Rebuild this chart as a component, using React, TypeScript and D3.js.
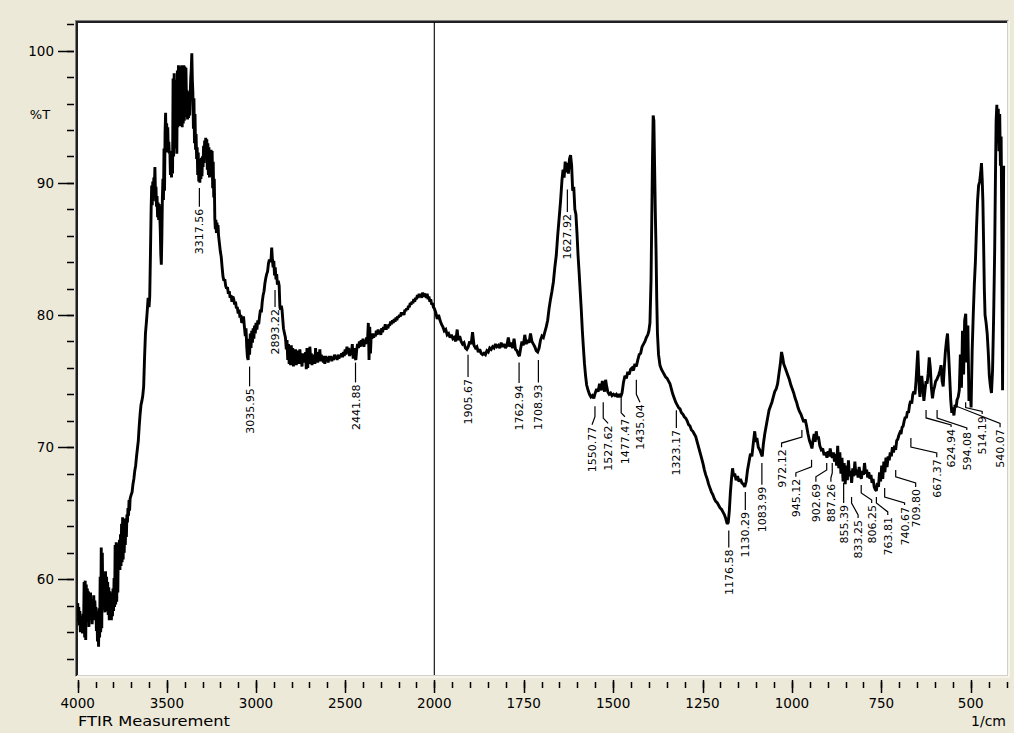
import React from "react";
import * as d3 from "d3";

// ---------- DATA ----------
const spectrum: [number, number][] = [
  [4000,58.2],[3997,56.8],[3994,57.9],[3991,56.5],[3988,57.6],[3985,56.0],[3982,57.2],[3979,56.3],[3976,56.9],[3973,55.9],
  [3970,57.4],[3967,56.2],[3964,59.8],[3961,55.6],[3958,59.9],[3955,55.4],[3952,59.6],[3949,56.8],[3946,59.3],[3943,57.2],
  [3940,59.1],[3937,56.4],[3934,58.7],[3931,56.9],[3928,59.0],[3925,57.3],[3922,58.5],[3919,56.6],[3916,58.2],[3913,57.0],
  [3910,58.8],[3907,56.9],[3904,58.4],[3901,57.4],[3898,57.9],[3895,56.1],[3892,57.6],[3889,55.3],[3886,57.2],[3883,54.9],
  [3880,57.8],[3877,55.6],[3874,60.2],[3871,56.0],[3868,62.4],[3865,56.3],[3862,62.0],[3859,58.4],[3856,60.4],[3853,57.7],
  [3850,60.3],[3847,57.5],[3844,60.6],[3841,58.0],[3838,60.2],[3835,57.6],[3832,59.8],[3829,57.3],[3826,59.4],[3823,56.9],
  [3820,59.1],[3817,57.0],[3814,58.8],[3811,56.9],[3808,59.0],[3805,57.2],[3802,59.3],[3799,57.6],[3796,60.1],[3793,57.9],
  [3790,62.6],[3787,58.1],[3784,62.8],[3781,58.3],[3778,62.4],[3775,59.0],[3772,62.7],[3769,60.8],[3766,63.0],[3763,60.7],
  [3760,63.4],[3757,61.0],[3754,64.2],[3751,61.3],[3748,64.7],[3745,61.5],[3742,64.4],[3739,62.0],[3736,64.6],[3733,62.6],
  [3730,64.5],[3727,63.2],[3724,64.9],[3721,64.3],[3718,65.4],[3715,64.8],[3712,66.0],[3709,65.2],[3706,66.1],[3700,66.4],
  [3695,66.6],[3690,67.2],[3685,67.6],[3680,68.2],[3675,68.6],[3670,69.3],[3665,69.9],[3660,70.5],[3655,71.6],[3650,72.5],
  [3645,73.2],[3640,73.5],[3635,73.9],[3630,74.6],[3625,76.8],[3620,78.6],[3615,79.4],[3610,80.3],[3605,81.3],[3600,80.6],
  [3596,81.4],[3592,84.6],[3588,88.1],[3585,89.8],[3582,88.3],[3579,90.1],[3576,88.6],[3573,90.4],[3570,89.6],[3567,91.2],
  [3564,89.3],[3561,89.7],[3558,88.2],[3555,89.0],[3552,87.4],[3549,88.5],[3546,87.2],[3543,88.4],[3540,87.6],[3537,86.5],
  [3534,84.6],[3531,83.8],[3528,85.9],[3525,88.9],[3522,90.3],[3519,88.7],[3516,92.6],[3513,89.4],[3510,93.8],[3507,95.3],
  [3504,92.4],[3501,94.5],[3498,92.3],[3495,94.2],[3492,92.6],[3489,93.1],[3486,92.2],[3483,92.4],[3480,90.6],[3477,92.2],
  [3474,90.4],[3471,91.8],[3468,90.7],[3465,97.9],[3462,92.0],[3459,98.3],[3456,92.6],[3453,97.8],[3450,93.1],[3447,97.4],
  [3444,92.2],[3441,98.5],[3438,94.2],[3435,98.9],[3432,94.4],[3429,98.7],[3426,94.3],[3423,98.8],[3420,94.6],[3417,98.9],
  [3414,94.2],[3411,98.6],[3408,94.5],[3405,98.9],[3402,94.7],[3399,98.8],[3396,95.0],[3393,98.7],[3390,96.2],[3387,97.0],
  [3384,94.8],[3381,96.8],[3378,94.9],[3375,96.9],[3372,95.1],[3369,96.7],[3366,97.9],[3363,98.6],[3360,99.8],[3357,97.8],
  [3354,96.8],[3351,94.1],[3348,96.4],[3345,93.0],[3342,95.2],[3339,92.5],[3336,93.7],[3333,91.8],[3330,92.7],[3327,90.6],
  [3324,92.3],[3321,90.1],[3318,91.8],[3315,90.0],[3312,91.6],[3309,90.3],[3306,91.9],[3303,90.5],[3300,92.0],[3297,91.2],
  [3294,92.8],[3291,91.5],[3288,93.2],[3285,91.8],[3282,93.4],[3279,92.1],[3276,93.3],[3273,91.0],[3270,93.0],[3267,90.6],
  [3264,92.7],[3261,90.4],[3258,92.2],[3255,91.2],[3252,92.5],[3249,90.5],[3246,92.4],[3243,89.6],[3240,91.6],[3237,88.9],
  [3234,90.3],[3231,87.3],[3228,86.5],[3225,87.2],[3222,86.2],[3219,87.0],[3216,86.4],[3213,86.8],[3210,86.0],[3205,85.4],
  [3200,84.8],[3195,84.4],[3190,83.6],[3185,82.9],[3180,82.6],[3175,82.7],[3170,82.2],[3165,82.0],[3160,82.1],[3155,81.6],
  [3150,81.8],[3145,81.3],[3140,81.5],[3135,81.0],[3130,81.4],[3125,81.2],[3120,80.8],[3115,81.0],[3110,80.5],[3105,80.6],
  [3100,80.1],[3095,80.4],[3090,79.8],[3085,80.0],[3080,79.4],[3075,79.6],[3070,79.9],[3065,79.1],[3060,78.4],[3056,79.0],
  [3052,77.6],[3048,76.8],[3044,76.6],[3040,78.2],[3036,77.0],[3032,78.6],[3028,77.5],[3024,78.8],[3020,77.9],[3016,79.0],
  [3012,78.2],[3008,79.2],[3004,78.6],[3000,79.4],[2995,78.9],[2990,79.6],[2985,79.3],[2980,79.9],[2975,80.4],[2970,80.2],
  [2965,81.0],[2960,81.5],[2955,81.8],[2950,82.4],[2945,82.8],[2940,83.1],[2935,83.3],[2930,83.9],[2925,84.2],[2920,84.0],
  [2915,84.3],[2912,85.1],[2908,84.2],[2904,83.6],[2900,84.1],[2896,83.0],[2892,83.6],[2888,82.7],[2884,83.1],[2880,82.3],
  [2875,82.6],[2870,82.2],[2866,80.6],[2862,80.4],[2858,80.7],[2854,80.4],[2846,79.0],[2840,78.6],[2835,78.3],[2830,77.4],
  [2826,78.1],[2822,76.6],[2818,77.8],[2814,76.3],[2810,77.6],[2806,76.2],[2802,77.7],[2798,76.4],[2794,77.5],[2790,76.1],
  [2786,77.2],[2782,76.5],[2778,77.4],[2774,76.2],[2770,77.3],[2766,76.6],[2762,77.2],[2758,76.3],[2754,77.4],[2750,76.7],
  [2746,77.0],[2742,76.1],[2738,77.1],[2734,76.4],[2730,76.9],[2726,76.5],[2722,77.2],[2718,75.9],[2714,77.5],[2710,76.0],
  [2706,77.3],[2702,76.3],[2698,77.6],[2694,76.8],[2690,77.1],[2686,76.2],[2682,77.0],[2678,76.4],[2674,76.9],[2670,76.3],
  [2666,77.5],[2662,76.5],[2658,77.2],[2654,76.4],[2650,77.0],[2646,76.6],[2642,77.4],[2638,76.5],[2634,77.0],[2630,76.6],
  [2626,76.9],[2622,76.4],[2618,76.8],[2614,76.3],[2610,76.9],[2605,76.5],[2600,76.8],[2595,76.4],[2590,76.9],[2585,76.6],
  [2580,76.9],[2575,76.5],[2570,76.8],[2565,76.6],[2560,77.0],[2555,76.7],[2550,76.9],[2545,76.6],[2540,77.0],[2535,76.7],
  [2530,76.9],[2525,76.8],[2520,77.1],[2515,76.8],[2510,77.2],[2505,76.9],[2500,77.4],[2495,77.0],[2490,77.6],[2485,77.1],
  [2480,77.5],[2475,76.9],[2470,77.3],[2465,77.0],[2460,77.8],[2455,76.7],[2450,77.5],[2445,76.8],[2440,76.6],[2435,77.4],
  [2430,77.8],[2425,77.5],[2420,78.0],[2415,77.6],[2410,78.1],[2405,77.7],[2400,78.2],[2395,77.6],[2390,78.0],[2385,77.8],
  [2380,78.3],[2375,77.9],[2370,79.4],[2366,76.6],[2362,79.1],[2358,77.1],[2354,78.4],[2350,78.2],[2345,78.6],[2340,78.3],
  [2335,78.5],[2330,78.4],[2325,78.8],[2320,78.5],[2315,78.9],[2310,78.6],[2305,78.8],[2300,78.5],[2295,79.0],[2290,78.7],
  [2285,79.1],[2280,78.9],[2275,79.3],[2270,78.9],[2265,79.1],[2260,79.0],[2255,79.3],[2250,79.2],[2245,79.5],[2240,79.3],
  [2235,79.6],[2230,79.4],[2225,79.7],[2220,79.5],[2215,79.8],[2210,79.6],[2205,79.9],[2200,79.8],[2195,80.0],[2190,79.9],
  [2185,80.2],[2180,80.0],[2175,80.2],[2170,80.0],[2165,80.4],[2160,80.3],[2155,80.5],[2150,80.4],[2145,80.7],[2140,80.6],
  [2135,80.9],[2130,80.8],[2125,81.0],[2120,80.9],[2115,81.2],[2110,81.0],[2105,81.3],[2100,81.2],[2095,81.5],[2090,81.3],
  [2085,81.6],[2080,81.4],[2075,81.6],[2070,81.3],[2065,81.7],[2060,81.4],[2055,81.6],[2050,81.5],[2045,81.3],[2040,81.6],
  [2035,81.2],[2030,81.4],[2025,81.0],[2020,81.2],[2015,80.8],[2010,80.9],[2005,80.6],[2000,80.5],
  [1996,80.2],[1992,79.7],[1988,80.0],[1984,79.6],[1980,79.3],[1976,79.1],[1972,78.8],[1968,78.9],[1964,78.5],[1960,78.6],
  [1956,78.3],[1952,78.5],[1948,78.2],[1944,78.3],[1940,78.0],[1936,78.9],[1933,78.1],[1929,78.4],[1925,78.0],[1921,77.8],
  [1917,77.9],[1913,77.5],[1909,77.4],[1905,77.6],[1901,78.0],[1897,77.8],[1893,78.7],[1889,77.7],[1885,77.5],[1881,77.6],
  [1877,77.2],[1873,77.4],[1869,77.1],[1865,77.0],[1861,77.1],[1857,77.0],[1853,77.3],[1849,77.2],[1845,77.5],[1841,77.4],
  [1837,77.6],[1833,77.5],[1829,77.8],[1825,77.6],[1821,77.7],[1817,77.5],[1813,77.9],[1809,77.6],[1805,77.8],[1801,77.5],
  [1797,77.7],[1793,78.3],[1789,77.6],[1785,77.9],[1781,77.5],[1777,78.2],[1773,77.4],[1769,77.3],[1765,77.0],[1762,76.9],
  [1759,77.4],[1755,78.0],[1751,77.7],[1747,78.5],[1743,77.8],[1739,78.1],[1735,77.9],[1731,78.6],[1727,78.0],[1723,77.8],
  [1719,77.6],[1715,77.3],[1711,77.2],[1707,77.5],[1703,78.1],[1699,78.4],[1695,78.3],[1691,78.7],[1687,79.1],[1683,79.6],
  [1679,80.5],[1675,81.2],[1671,81.8],[1667,82.5],[1663,83.6],[1659,84.5],[1655,86.0],[1651,87.3],[1647,88.6],[1643,90.2],
  [1640,91.0],[1637,90.4],[1634,91.6],[1631,90.8],[1628,91.5],[1625,90.7],[1622,91.8],[1619,92.1],[1616,91.3],[1613,89.4],
  [1610,89.7],[1607,88.0],[1604,87.6],[1601,86.2],[1598,84.5],[1595,83.2],[1592,81.8],[1589,80.4],[1586,78.8],[1583,77.5],
  [1580,76.3],[1577,75.4],[1574,74.7],[1570,74.3],[1566,74.0],[1562,73.8],[1558,73.9],[1554,73.7],[1550,74.1],[1546,74.4],
  [1542,74.2],[1538,74.8],[1534,74.3],[1530,75.0],[1527,74.5],[1524,74.2],[1521,75.1],[1518,74.6],[1515,74.2],[1511,74.0],
  [1507,74.1],[1503,73.9],[1499,74.0],[1495,73.9],[1491,74.0],[1487,73.8],[1483,74.0],[1479,73.8],[1475,74.1],[1471,74.9],
  [1467,75.4],[1463,75.2],[1459,75.7],[1455,75.5],[1451,75.9],[1447,76.0],[1443,75.8],[1439,76.3],[1435,76.1],[1431,76.6],
  [1427,77.0],[1423,77.1],[1419,77.6],[1415,77.8],[1411,78.0],[1407,78.3],[1403,78.5],[1400,78.8],[1397,79.4],[1394,82.6],
  [1392,87.0],[1390,91.6],[1388,95.1],[1386,94.7],[1384,91.3],[1382,87.8],[1380,85.0],[1378,81.2],[1376,78.6],[1373,77.0],
  [1369,76.2],[1365,75.9],[1361,75.7],[1357,75.5],[1353,75.3],[1349,75.2],[1345,75.0],[1341,74.8],[1337,74.4],[1333,74.0],
  [1329,73.7],[1325,73.4],[1321,73.2],[1317,73.0],[1313,72.9],[1309,72.6],[1305,72.5],[1301,72.3],[1297,72.2],[1293,72.0],
  [1289,71.7],[1285,71.6],[1281,71.3],[1277,71.2],[1273,71.0],[1269,70.8],[1265,70.4],[1261,70.0],[1257,69.6],[1253,69.2],
  [1249,68.8],[1245,68.3],[1241,67.9],[1237,67.6],[1233,67.2],[1229,66.9],[1225,66.6],[1221,66.4],[1217,66.1],[1213,65.9],
  [1209,65.8],[1205,65.6],[1201,65.4],[1197,65.3],[1193,65.1],[1189,64.9],[1185,64.6],[1181,64.2],[1178,64.3],[1175,65.2],
  [1172,66.6],[1169,67.6],[1166,68.4],[1163,67.8],[1160,68.0],[1156,67.5],[1152,67.8],[1148,67.4],[1144,67.6],[1140,67.3],
  [1136,67.2],[1132,67.0],[1128,67.4],[1124,68.3],[1120,68.9],[1116,69.5],[1112,69.3],[1108,70.3],[1104,71.2],[1101,70.4],
  [1098,70.7],[1094,70.0],[1090,69.8],[1086,69.5],[1083,69.3],[1080,70.2],[1076,71.0],[1072,71.6],[1068,72.2],[1064,72.8],
  [1060,73.1],[1056,73.4],[1052,73.8],[1048,74.2],[1044,74.4],[1040,74.8],[1036,75.6],[1032,76.4],[1029,77.2],[1026,76.8],
  [1023,76.3],[1019,76.0],[1015,75.7],[1011,75.4],[1007,75.1],[1003,74.7],[999,74.4],[995,74.1],[991,73.7],[987,73.4],
  [983,73.0],[979,72.7],[975,72.5],[971,72.2],[967,71.9],[963,72.1],[959,71.6],[955,71.0],[951,70.5],[947,70.2],
  [944,69.9],[941,70.5],[938,71.0],[935,70.4],[932,71.2],[929,70.6],[926,70.8],[922,70.1],[918,69.8],[914,69.9],
  [910,69.4],[906,69.6],[902,69.2],[899,69.7],[896,69.3],[893,69.9],[890,69.4],[887,69.2],[884,69.6],[881,68.9],
  [878,69.5],[875,68.6],[872,70.1],[869,68.4],[866,69.6],[863,68.0],[860,69.2],[857,67.4],[854,68.8],[851,67.2],
  [848,68.6],[845,67.5],[842,69.0],[839,67.8],[836,68.2],[833,67.3],[830,68.4],[827,67.8],[824,68.9],[821,67.9],
  [818,68.3],[815,67.7],[812,68.5],[809,67.9],[806,67.6],[803,68.2],[800,67.9],[797,68.8],[794,68.0],[791,68.3],
  [788,67.7],[785,68.1],[782,67.6],[779,67.9],[776,67.3],[773,67.6],[770,67.0],[767,66.8],[764,66.7],[761,67.3],
  [758,67.0],[755,68.1],[752,67.4],[749,68.6],[746,67.6],[743,68.9],[740,68.1],[737,69.2],[734,68.5],[731,69.3],
  [728,69.0],[725,69.6],[722,69.3],[719,70.0],[716,69.6],[713,70.1],[710,69.8],[707,70.5],[704,70.6],[701,70.9],
  [698,71.1],[695,71.0],[692,71.5],[689,71.6],[686,72.0],[683,72.3],[680,72.2],[677,72.7],[674,72.6],[671,73.2],
  [668,73.5],[665,73.3],[662,74.0],[659,74.2],[656,74.0],[653,75.0],[650,76.4],[648,77.3],[646,76.0],[644,74.4],
  [642,73.8],[640,74.6],[637,75.4],[634,74.5],[631,73.5],[628,74.3],[625,75.0],[622,74.8],[619,75.6],[616,76.8],
  [613,76.0],[610,74.5],[607,73.7],[604,74.3],[601,74.6],[598,75.0],[595,75.1],[592,75.3],[589,75.5],[586,75.8],
  [583,76.2],[580,75.0],[577,74.6],[574,76.0],[571,77.2],[568,78.0],[565,78.6],[562,77.1],[559,75.4],[556,73.6],
  [553,72.6],[550,73.0],[547,72.4],[544,73.2],[541,73.0],[538,73.6],[535,73.8],[532,74.3],[529,77.0],[526,74.5],
  [523,78.8],[520,75.5],[517,79.6],[514,80.1],[511,76.4],[508,79.2],[505,73.5],[502,74.8],[499,73.0],[496,77.3],
  [493,80.0],[490,82.3],[487,84.0],[484,86.5],[481,88.6],[478,89.8],[475,90.1],[472,90.8],[470,91.5],[468,90.3],
  [466,88.6],[464,85.4],[462,82.0],[460,80.0],[457,79.4],[454,78.6],[451,77.2],[448,75.4],[445,74.6],[442,74.1],
  [439,75.8],[436,79.8],[433,85.0],[431,90.2],[429,94.7],[427,95.9],[425,93.0],[423,95.6],[421,92.4],[419,95.2],
  [417,91.3],[415,93.5],[413,86.0],[411,74.3],[408,91.3]
];

const xMajorTicks = [4000, 3500, 3000, 2500, 2000, 1750, 1500, 1250, 1000, 750, 500];
const yMajorTicks = [100, 90, 80, 70, 60];

// Peak labels: text, wavenumber, leader start T, elbow T, text wavenumber, elbow end T, text start T
type PeakLabel = { text: string; wn: number; t0: number; t1: number; tw: number; t2: number; t3: number };
const peakLabels: PeakLabel[] = [
  { text: "3317.56", wn: 3317.56, t0: 89.6, t1: 88.2, tw: 3317.56, t2: 88.2, t3: 88.2 },
  { text: "3035.95", wn: 3035.95, t0: 76.1, t1: 74.6, tw: 3035.95, t2: 74.6, t3: 74.6 },
  { text: "2893.22", wn: 2893.22, t0: 81.9, t1: 80.6, tw: 2893.22, t2: 80.6, t3: 80.6 },
  { text: "2441.88", wn: 2441.88, t0: 76.4, t1: 74.9, tw: 2441.88, t2: 74.9, t3: 74.9 },
  { text: "1905.67", wn: 1905.67, t0: 77.0, t1: 75.3, tw: 1905.67, t2: 75.3, t3: 75.3 },
  { text: "1762.94", wn: 1762.94, t0: 76.4, t1: 74.85, tw: 1762.94, t2: 74.85, t3: 74.85 },
  { text: "1708.93", wn: 1708.93, t0: 76.6, t1: 74.9, tw: 1708.93, t2: 74.9, t3: 74.9 },
  { text: "1627.92", wn: 1627.92, t0: 89.5, t1: 87.8, tw: 1627.92, t2: 87.8, t3: 87.8 },
  { text: "1550.77", wn: 1550.77, t0: 73.1, t1: 72.3, tw: 1559, t2: 71.7, t3: 71.7 },
  { text: "1527.62", wn: 1527.62, t0: 73.4, t1: 72.2, tw: 1514, t2: 71.8, t3: 71.8 },
  { text: "1477.47", wn: 1477.47, t0: 74.1, t1: 72.6, tw: 1467, t2: 72.3, t3: 72.3 },
  { text: "1435.04", wn: 1435.04, t0: 75.1, t1: 74.0, tw: 1425, t2: 73.4, t3: 73.4 },
  { text: "1323.17", wn: 1323.17, t0: 72.8, t1: 71.45, tw: 1323.17, t2: 71.45, t3: 71.45 },
  { text: "1176.58", wn: 1176.58, t0: 63.7, t1: 62.4, tw: 1176.58, t2: 62.4, t3: 62.4 },
  { text: "1130.29", wn: 1130.29, t0: 66.6, t1: 65.25, tw: 1130.29, t2: 65.25, t3: 65.25 },
  { text: "1083.99", wn: 1083.99, t0: 68.8, t1: 67.15, tw: 1083.99, t2: 67.15, t3: 67.15 },
  { text: "972.12", wn: 972.12, t0: 71.3, t1: 70.77, tw: 1029, t2: 70.31, t3: 70.0 },
  { text: "945.12", wn: 945.12, t0: 69.04, t1: 68.51, tw: 989, t2: 68.06, t3: 67.76 },
  { text: "902.69", wn: 902.69, t0: 68.81, t1: 68.28, tw: 933, t2: 67.76, t3: 67.38 },
  { text: "887.26", wn: 887.26, t0: 68.81, t1: 68.05, tw: 891, t2: 67.67, t3: 67.38 },
  { text: "855.39", wn: 855.39, t0: 67.29, t1: 66.0, tw: 855.39, t2: 66.0, t3: 65.77 },
  { text: "833.25", wn: 833.25, t0: 66.23, t1: 65.77, tw: 815, t2: 64.87, t3: 64.64 },
  { text: "806.25", wn: 806.25, t0: 67.14, t1: 66.53, tw: 777, t2: 66.0, t3: 65.77 },
  { text: "763.81", wn: 763.81, t0: 66.23, t1: 65.77, tw: 732, t2: 65.1, t3: 64.87 },
  { text: "740.67", wn: 740.67, t0: 66.91, t1: 66.23, tw: 685, t2: 65.78, t3: 65.62 },
  { text: "709.80", wn: 709.80, t0: 68.28, t1: 67.76, tw: 654, t2: 67.29, t3: 66.99 },
  { text: "667.37", wn: 667.37, t0: 70.69, t1: 70.01, tw: 595, t2: 69.56, t3: 69.24 },
  { text: "624.94", wn: 624.94, t0: 72.81, t1: 72.21, tw: 555, t2: 71.68, t3: 71.52 },
  { text: "594.08", wn: 594.08, t0: 72.81, t1: 72.21, tw: 511, t2: 71.45, t3: 71.3 },
  { text: "514.19", wn: 514.19, t0: 73.4, t1: 73.0, tw: 468, t2: 72.7, t3: 72.5 },
  { text: "540.07", wn: 540.07, t0: 73.6, t1: 73.1, tw: 418, t2: 71.8, t3: 71.5 },
];

// ---------- LAYOUT ----------
const W = 1014, H = 733;
const PL = 77.7, PR = 1006.5, PT = 22, PB = 675;
const FONT = "'DejaVu Sans', Verdana, sans-serif";

export default function App() {
  const x = d3.scaleLinear().domain([4000, 2000, 400]).range([PL, 434.3, PR]);
  const y = d3.scaleLinear().domain([102.17, 52.76]).range([PT, PB]);

  const line = d3.line<[number, number]>().x(d => x(d[0])).y(d => y(d[1]));

  const xMinor = [...d3.range(4000, 2000, -100), ...d3.range(2000, 399, -50)];
  const yMinor = d3.range(54, 103, 2);

  return (
    <svg width={W} height={H} style={{ position: "absolute", left: 0, top: 0, display: "block" }}>
      <defs>
        <clipPath id="plotclip">
          <rect x={77} y={PT} width={1007 - 77} height={PB - PT} />
        </clipPath>
      </defs>
      <rect x={0} y={0} width={W} height={H} fill="#ECE9D8" />
      <rect x={77} y={PT} width={1007 - 77} height={PB - PT} fill="#FFFFFF" />

      {/* frame */}
      <line x1={75} y1={20.5} x2={1009} y2={20.5} stroke="#808080" strokeWidth={1} />
      <line x1={75.5} y1={20} x2={75.5} y2={677} stroke="#808080" strokeWidth={1} />
      <line x1={76} y1={22} x2={1008} y2={22} stroke="#202020" strokeWidth={2} />
      <line x1={77} y1={21} x2={77} y2={676} stroke="#202020" strokeWidth={2} />
      <line x1={1007.5} y1={21} x2={1007.5} y2={676} stroke="#D4D0C8" strokeWidth={1} />
      <line x1={1009} y1={20} x2={1009} y2={677} stroke="#FFFFFF" strokeWidth={1} />
      <line x1={77} y1={675.5} x2={1008} y2={675.5} stroke="#D4D0C8" strokeWidth={1} />
      <line x1={75} y1={677} x2={1009} y2={677} stroke="#FFFFFF" strokeWidth={1} />

      {/* vertical split at 2000 */}
      <line x1={x(2000)} y1={PT} x2={x(2000)} y2={PB} stroke="#000" strokeWidth={1.1} />

      {/* spectrum */}
      <g clipPath="url(#plotclip)">
        <path d={line(spectrum) || ""} fill="none" stroke="#000" strokeWidth={2.9} strokeLinejoin="miter" strokeMiterlimit={2} />
      </g>

      {/* y axis */}
      {yMinor.map(v => (
        <line key={"ym" + v} x1={67} x2={74} y1={Math.round(y(v)) + 0.5} y2={Math.round(y(v)) + 0.5} stroke="#000" strokeWidth={1.5} />
      ))}
      {yMajorTicks.map(v => (
        <g key={"yM" + v}>
          <line x1={58} x2={74} y1={Math.round(y(v)) + 0.5} y2={Math.round(y(v)) + 0.5} stroke="#000" strokeWidth={1.5} />
          <text x={54} y={y(v)} dy="0.36em" textAnchor="end" fontFamily={FONT} fontSize={13.5} fill="#000">{v}</text>
        </g>
      ))}
      <text x={40} y={y(95.2)} dy="0.36em" textAnchor="middle" fontFamily={FONT} fontSize={13} fill="#000">%T</text>

      {/* x axis */}
      {xMinor.map(v => (
        <line key={"xm" + v} x1={Math.round(x(v)) + 0.5} x2={Math.round(x(v)) + 0.5} y1={682} y2={688} stroke="#000" strokeWidth={1.5} />
      ))}
      {xMajorTicks.map(v => (
        <g key={"xM" + v}>
          <line x1={Math.round(x(v)) + 0.5} x2={Math.round(x(v)) + 0.5} y1={680} y2={693} stroke="#000" strokeWidth={1.5} />
          <text x={x(v)} y={708} textAnchor="middle" fontFamily={FONT} fontSize={13.5} fill="#000">{v}</text>
        </g>
      ))}
      <text x={78} y={726} fontFamily={FONT} fontSize={14} textLength={152} lengthAdjust="spacingAndGlyphs" fill="#000">FTIR Measurement</text>
      <text x={1006} y={726} textAnchor="end" fontFamily={FONT} fontSize={14} fill="#000">1/cm</text>

      {/* peak labels */}
      <g clipPath="url(#plotclip)">
        {peakLabels.map(p => {
          const px = x(p.wn), tx = x(p.tw);
          const pts: [number, number][] = [[px, y(p.t0)], [px, y(p.t1)], [tx, y(p.t2)], [tx, y(p.t3)]];
          return (
            <g key={p.text}>
              <path d={d3.line()(pts) || ""} fill="none" stroke="#000" strokeWidth={1.2} />
              <text transform={`translate(${tx + 4},${y(p.t3) + 2}) rotate(-90)`} textAnchor="end" fontFamily={FONT} fontSize={11} fill="#000">{p.text}</text>
            </g>
          );
        })}
      </g>
    </svg>
  );
}
